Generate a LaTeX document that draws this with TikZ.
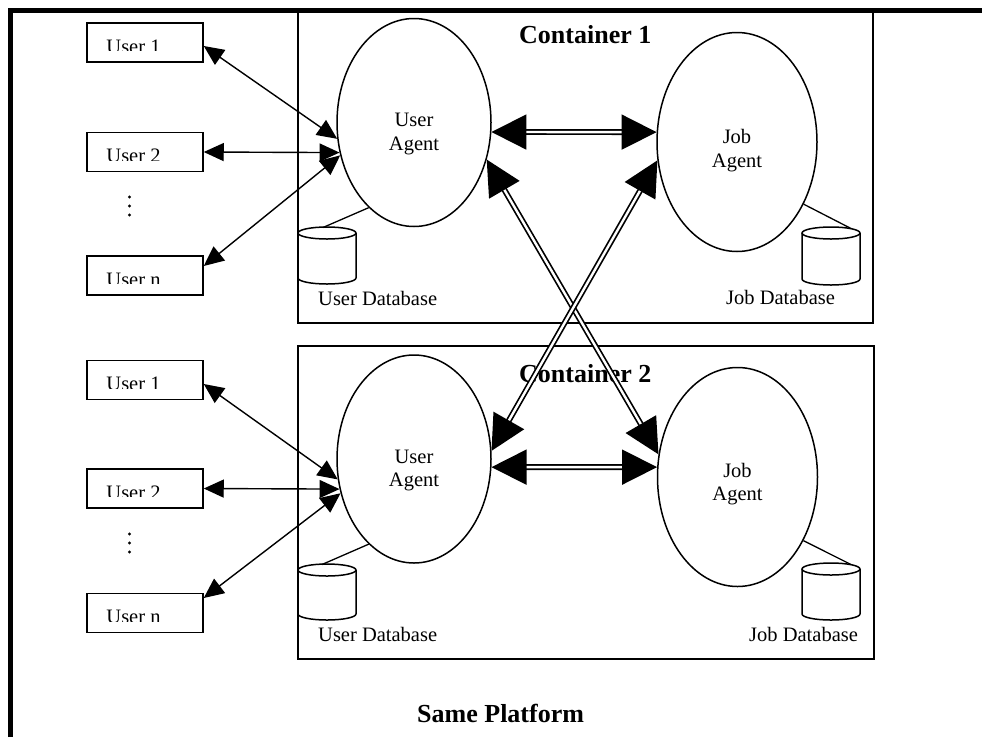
\documentclass[tikz,border=0pt]{standalone}
\usepackage{fontspec}
\setmainfont{Liberation Serif}
\usetikzlibrary{arrows.meta,shapes.geometric}

\tikzset{
  agent/.style={ellipse, draw, line width=1.5pt, minimum width=154pt, minimum height=208pt, inner sep=0pt},
  jobagent/.style={agent, minimum width=160pt, minimum height=219pt},
  userbox/.style={draw, line width=1.5pt, minimum width=116pt, minimum height=39pt, inner sep=0pt},
  txt/.style={font=\fontsize{20.5}{23.5}\selectfont, inner sep=0pt, align=center},
  heading/.style={font=\fontsize{26}{30}\selectfont\bfseries, inner sep=0pt},
  frame/.style={line width=1.5pt},
  dbline/.style={line width=1.3pt},
  uarrow/.style={line width=1.4pt, {Triangle[length=20pt,width=18pt]}-{Triangle[length=20pt,width=18pt]}},
  link/.style={line width=1.7pt, double, double distance=2.4pt,
    {Triangle[length=35pt,width=35pt]}-{Triangle[length=35pt,width=35pt]}}
}

% user box with its label clipped just above the baseline
\newcommand\mkuser[3]{%
  \node[userbox] (#1) at (#2) {};
  \begin{scope}
    \clip ([xshift=1pt,yshift=-1pt]#1.north west) rectangle ([xshift=-1pt,yshift=-28.5pt]#1.north east);
    \node[txt, anchor=base west] at ([xshift=20pt,yshift=-31pt]#1.north west) {#3};
  \end{scope}}

% database cylinder: left x, top y, bottom y
\newcommand\dbcyl[3]{%
  \draw[frame] (#1+29,#2+6) ellipse [x radius=29, y radius=6];
  \draw[frame] (#1,#2+6) -- (#1,#3-6) arc[start angle=180, end angle=0, x radius=29, y radius=6] -- (#1+58,#2+6);}

\begin{document}
\begin{tikzpicture}[x=1pt,y=-1pt]
\useasboundingbox (0,0) rectangle (982,737);

% platform frame (open to the right and bottom)
\draw[line width=5pt] (10,737) -- (10,10) -- (982,10);

% containers
\draw[frame] (298,10) rectangle (873,323);
\draw[frame] (298,346) rectangle (874,659);
\node[heading, anchor=base west] (c1) at (519,43) {Container 1};
\node[heading, anchor=base west] (c2) at (519,382) {Container 2};
\node[heading, anchor=base west] (plat) at (417,722) {Same Platform};

% agents
\node[agent] (ua1) at (414,122.5) {};
\node[jobagent] (ja1) at (737,142) {};
\node[agent] (ua2) at (414,459) {};
\node[jobagent] (ja2) at (737.5,477) {};
\node[txt] at (414,134) {User\\Agent};
\node[txt] at (737,150.5) {Job\\Agent};
\node[txt] at (414,470.5) {User\\Agent};
\node[txt] at (737.5,484) {Job\\Agent};

% databases
\dbcyl{298}{227}{284}
\dbcyl{802}{227}{285}
\dbcyl{298}{564}{620}
\dbcyl{802}{563}{620}
\coordinate (udb1) at (323,227.5);
\coordinate (jdb1) at (851,228.5);
\coordinate (udb2) at (322,564.5);
\coordinate (jdb2) at (851,564.5);
\node[txt, anchor=base west] at (318,305) {User Database};
\node[txt, anchor=base west] at (726,304) {Job Database};
\node[txt, anchor=base west] at (318,641) {User Database};
\node[txt, anchor=base west] at (749,641) {Job Database};
\draw[dbline] (ua1.-118) -- (udb1);
\draw[dbline] (ja1.-43) -- (jdb1);
\draw[dbline] (ua2.-118) -- (udb2);
\draw[dbline] (ja2.-44) -- (jdb2);

% users
\mkuser{u11}{145,42.5}{User 1}
\mkuser{u12}{145,152}{User 2}
\mkuser{u1n}{145,275.5}{User n}
\mkuser{u21}{145,380}{User 1}
\mkuser{u22}{145,488.5}{User 2}
\mkuser{u2n}{145,613}{User n}
\foreach \y in {197,206,215,534,543,552} \fill (129.5,\y) circle[radius=1.6pt];

% user <-> user agent
\draw[uarrow] ([yshift=-3.5pt]u11.east) -- (ua1.-168.5);
\draw[uarrow] (u12.east) -- (ua1.-158.8);
\draw[uarrow] ([yshift=9.5pt]u1n.east) -- (ua1.-156.5);
\draw[uarrow] ([yshift=-4pt]u21.east) -- (ua2.-165.8);
\draw[uarrow] (u22.east) -- (ua2.-158.5);
\draw[uarrow] ([yshift=15pt]u2n.east) -- (ua2.-155);

% agent <-> agent links
\draw[link] (ua1.-7) -- (ja1.173);
\draw[link] (ua2.-6) -- (ja2.173);
\draw[link] (ua1.-27) -- (ja2.164.6);
\draw[link] (ja1.-167.3) -- (ua2.6.6);
\end{tikzpicture}
\end{document}
